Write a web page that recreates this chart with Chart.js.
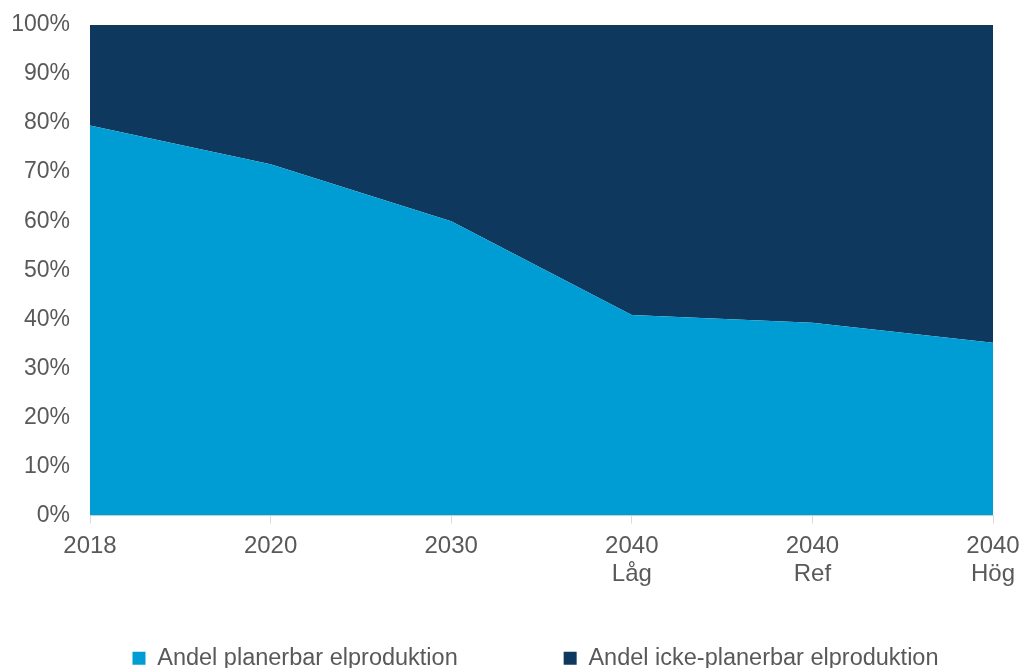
<!DOCTYPE html>
<html>
<head>
<meta charset="utf-8">
<script src="https://cdn.jsdelivr.net/npm/chart.js@4/dist/chart.umd.min.js"></script>
<style>
  html, body { margin: 0; padding: 0; background: #fff; }
  #wrap { width: 1023px; height: 668px; }
</style>
</head>
<body>
<div id="wrap"><canvas id="elChart" width="1023" height="668"></canvas></div>
<script>
// kategorier och andelar (%)
const categories = ["2018", "2020", "2030", ["2040", "Låg"], ["2040", "Ref"], ["2040", "Hög"]];
const planerbar = [79.5, 71.6, 60.0, 40.9, 39.3, 35.2];
const ickePlanerbar = [20.5, 28.4, 40.0, 59.1, 60.7, 64.8];
const seriesNames = ["Andel planerbar elproduktion", "Andel icke-planerbar elproduktion"];

const textColor = "#595959";
const fontFamily = "'Liberation Sans', Arial, sans-serif";

// flyttar legenden lite åt höger och nedåt, som i originalet
const legendShift = {
    id: "legendShift",
    afterLayout(chart) {
        const lg = chart.legend;
        if (!lg) return;
        lg.left += 24;
        lg.right += 24;
        lg.top += 12;
        lg.bottom += 12;
    }
};

document.addEventListener("DOMContentLoaded", function () {
    const ctx = document.getElementById("elChart").getContext("2d");
    new Chart(ctx, {
        type: "line",
        data: {
            labels: categories,
            datasets: [
                {
                    label: seriesNames[0],
                    data: planerbar,
                    backgroundColor: "#009DD5",
                    borderColor: "#009DD5",
                    borderWidth: 0,
                    pointRadius: 0,
                    fill: "origin",
                    tension: 0
                },
                {
                    label: seriesNames[1],
                    data: ickePlanerbar,
                    backgroundColor: "#0E385E",
                    borderColor: "#0E385E",
                    borderWidth: 0,
                    pointRadius: 0,
                    fill: "-1",
                    tension: 0
                }
            ]
        },
        options: {
            responsive: false,
            animation: false,
            devicePixelRatio: 1,
            layout: { padding: { top: 25, right: 0, bottom: 0, left: 0 } },
            plugins: {
                tooltip: { enabled: false },
                legend: {
                    display: true,
                    position: "bottom",
                    labels: {
                        color: textColor,
                        font: { family: fontFamily, size: 23.5 },
                        boxWidth: 13,
                        boxHeight: 13,
                        padding: 8,
                        generateLabels(chart) {
                            const items = Chart.defaults.plugins.legend.labels.generateLabels(chart);
                            // extra mellanrum efter första posten
                            items[0].text = items[0].text + "\u00A0".repeat(15);
                            items.forEach(it => { it.lineWidth = 0; });
                            return items;
                        }
                    }
                }
            },
            scales: {
                x: {
                    offset: false,
                    grid: {
                        display: true,
                        drawOnChartArea: false,
                        drawTicks: true,
                        tickLength: 8,
                        color: "#D9D9D9"
                    },
                    border: { display: true, color: "#D9D9D9" },
                    ticks: {
                        color: textColor,
                        font: { family: fontFamily, size: 24 },
                        padding: 8,
                        maxRotation: 0,
                        autoSkip: false
                    },
                    afterFit(scale) {
                        scale.height = 111;
                        scale.paddingRight = 30;
                    }
                },
                y: {
                    stacked: true,
                    min: 0,
                    max: 100,
                    grid: { display: false, drawTicks: false },
                    border: { display: false },
                    ticks: {
                        stepSize: 10,
                        color: textColor,
                        font: { family: fontFamily, size: 23 },
                        padding: 20,
                        callback: v => v + "%"
                    },
                    afterFit(scale) {
                        scale.width = 90;
                        scale.paddingTop = 0;
                    }
                }
            }
        },
        plugins: [legendShift]
    });
});
</script>
</body>
</html>
